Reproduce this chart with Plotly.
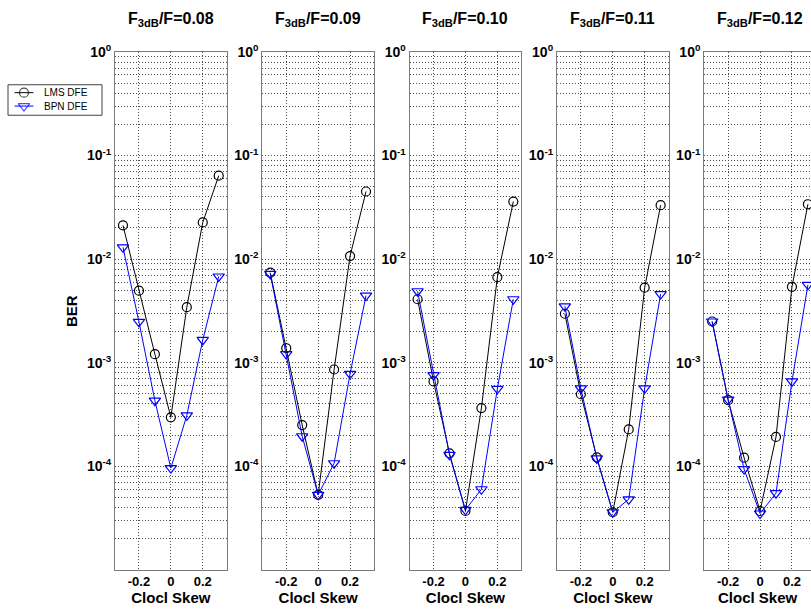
import plotly.graph_objects as go

# Clock skew sweep (x values shared by every panel)
skew = [-0.3, -0.2, -0.1, 0.0, 0.1, 0.2, 0.3]

# Filter bandwidth ratios, one panel each
ratio_labels = ["0.08", "0.09", "0.10", "0.11", "0.12"]

# Bit error rate of the LMS decision-feedback equalizer
lms_008 = [0.0212, 0.00496, 0.00121, 0.000297, 0.00344, 0.0226, 0.064]
lms_009 = [0.0074, 0.00138, 0.00025, 0.000053, 0.00086, 0.0107, 0.045]
lms_010 = [0.0041, 0.00066, 0.000133, 0.000037, 0.000365, 0.0067, 0.036]
lms_011 = [0.00297, 0.000496, 0.000122, 0.000036, 0.000227, 0.0053, 0.0332]
lms_012 = [0.0025, 0.000435, 0.000121, 0.000037, 0.000192, 0.0054, 0.0339]

# Bit error rate of the BPN (neural network) decision-feedback equalizer
bpn_008 = [0.013, 0.00248, 0.00043, 0.000096, 0.00031, 0.00166, 0.0068]
bpn_009 = [0.0072, 0.00121, 0.000195, 0.000053, 0.000107, 0.00078, 0.00445]
bpn_010 = [0.0049, 0.00076, 0.000129, 0.000038, 0.00006, 0.00056, 0.0041]
bpn_011 = [0.0035, 0.000565, 0.000119, 0.000036, 0.000048, 0.000565, 0.0046]
bpn_012 = [0.0025, 0.00044, 0.000094, 0.000035, 0.000055, 0.00066, 0.00565]

lms_series = [lms_008, lms_009, lms_010, lms_011, lms_012]
bpn_series = [bpn_008, bpn_009, bpn_010, bpn_011, bpn_012]

series_names = ["LMS DFE", "BPN DFE"]

ber_tickvals = [1, 1e-1, 1e-2, 1e-3, 1e-4]
ber_ticktext = ["10<sup>0</sup>", "10<sup>-1</sup>", "10<sup>-2</sup>",
                "10<sup>-3</sup>", "10<sup>-4</sup>"]
skew_tickvals = [-0.2, 0.0, 0.2]
skew_ticktext = ["-0.2", "0", "0.2"]

W, H = 811, 609
FONT = "Liberation Sans, Arial, Helvetica, sans-serif"
GRID = "#4a4a4a"
FRAME = "#7a7a7a"
BLUE = "#0000ff"

lms_style = dict(line=dict(color="black", width=1),
                 marker=dict(symbol="circle-open", size=9, color="black",
                             line=dict(width=1.2)))
bpn_style = dict(line=dict(color=BLUE, width=1),
                 marker=dict(symbol="triangle-down-open", size=10, color=BLUE,
                             line=dict(width=1.2)))

# panel geometry in pixels
panel_left0 = 115.0
panel_step = 147.3
panel_width = 111.7
plot_top = 42.7
plot_bottom = 569.2

fig = go.Figure()

for i in range(5):
    ax = "" if i == 0 else str(i + 1)
    fig.add_trace(go.Scatter(
        x=skew, y=lms_series[i], name=series_names[0], mode="lines+markers",
        xaxis="x" + ax, yaxis="y" + ax, showlegend=False, **lms_style))
    fig.add_trace(go.Scatter(
        x=skew, y=bpn_series[i], name=series_names[1], mode="lines+markers",
        xaxis="x" + ax, yaxis="y" + ax, showlegend=False, **bpn_style))

# Compact key box drawn on its own hidden unit axes
key_left, key_right, key_top, key_bottom = 8.0, 102.0, 76.0, 107.0
key_rows = [0.74, 0.30]
for row, style in zip(key_rows, [lms_style, bpn_style]):
    fig.add_trace(go.Scatter(
        x=[0.07, 0.17, 0.27], y=[row] * 3, mode="lines+markers",
        xaxis="x6", yaxis="y6", showlegend=False, hoverinfo="skip",
        line=style["line"],
        marker=dict(style["marker"], size=[0, style["marker"]["size"], 0])))

layout = dict(
    width=W, height=H,
    margin=dict(l=0, r=0, t=0, b=0),
    paper_bgcolor="white", plot_bgcolor="white",
    font=dict(family=FONT, color="black"),
    showlegend=False,
    annotations=[],
    shapes=[dict(type="rect", xref="paper", yref="paper",
                 x0=key_left / W, x1=key_right / W,
                 y0=1 - key_bottom / H, y1=1 - key_top / H,
                 line=dict(color="#404040", width=1), layer="below")],
)

layout["xaxis6"] = dict(domain=[key_left / W, key_right / W], range=[0, 1],
                        anchor="y6", visible=False, fixedrange=True)
layout["yaxis6"] = dict(domain=[1 - key_bottom / H, 1 - key_top / H],
                        range=[0, 1], anchor="x6", visible=False,
                        fixedrange=True)
for row, name in zip(key_rows, series_names):
    layout["annotations"].append(dict(
        text=name, x=0.36, y=row, xref="x6", yref="y6",
        xanchor="left", yanchor="middle", showarrow=False,
        font=dict(size=10)))

y_dom = [1 - plot_bottom / H, 1 - plot_top / H]

for i in range(5):
    left = panel_left0 + i * panel_step
    right = left + panel_width
    xr = [-0.35, 0.35]
    if right > W:
        xr = [-0.35, -0.35 + 0.7 * (W - left) / panel_width]
        right = W
    sfx = "" if i == 0 else str(i + 1)
    layout["xaxis" + sfx] = dict(
        domain=[left / W, right / W], range=xr, anchor="y" + sfx,
        tickmode="array", tickvals=skew_tickvals, ticktext=skew_ticktext,
        tickfont=dict(size=13, weight="bold"),
        showgrid=True, gridcolor=GRID, gridwidth=1, griddash="1px,2px",
        zeroline=False, showline=True, linecolor=FRAME, linewidth=1,
        mirror=True, ticks="",
        title=dict(text="Clocl Skew", font=dict(size=15, weight="bold"),
                   standoff=4),
    )
    layout["yaxis" + sfx] = dict(
        domain=y_dom, type="log", range=[-5, 0], anchor="x" + sfx,
        tickmode="array", tickvals=ber_tickvals, ticktext=ber_ticktext,
        tickfont=dict(size=14, weight="bold"),
        showgrid=True, gridcolor=GRID, gridwidth=1, griddash="1px,2px",
        minor=dict(dtick="D1", showgrid=True, gridcolor=GRID,
                   gridwidth=1, griddash="1px,2px", ticks=""),
        zeroline=False, showline=True, linecolor=FRAME, linewidth=1,
        mirror=(i < 4), ticks="",
    )
    layout["annotations"].append(dict(
        text="F<sub>3dB</sub>/F=" + ratio_labels[i],
        x=(left + panel_width / 2) / W, y=1 - 10 / H,
        xref="paper", yref="paper", xanchor="center", yanchor="middle",
        showarrow=False, font=dict(size=16, weight="bold")))

layout["annotations"].append(dict(
    text="BER", x=72 / W, y=1 - 306 / H, xref="paper", yref="paper",
    xanchor="center", yanchor="middle", textangle=-90, showarrow=False,
    font=dict(size=15, weight="bold")))

fig.update_layout(**layout)
fig.write_html("out.html")
